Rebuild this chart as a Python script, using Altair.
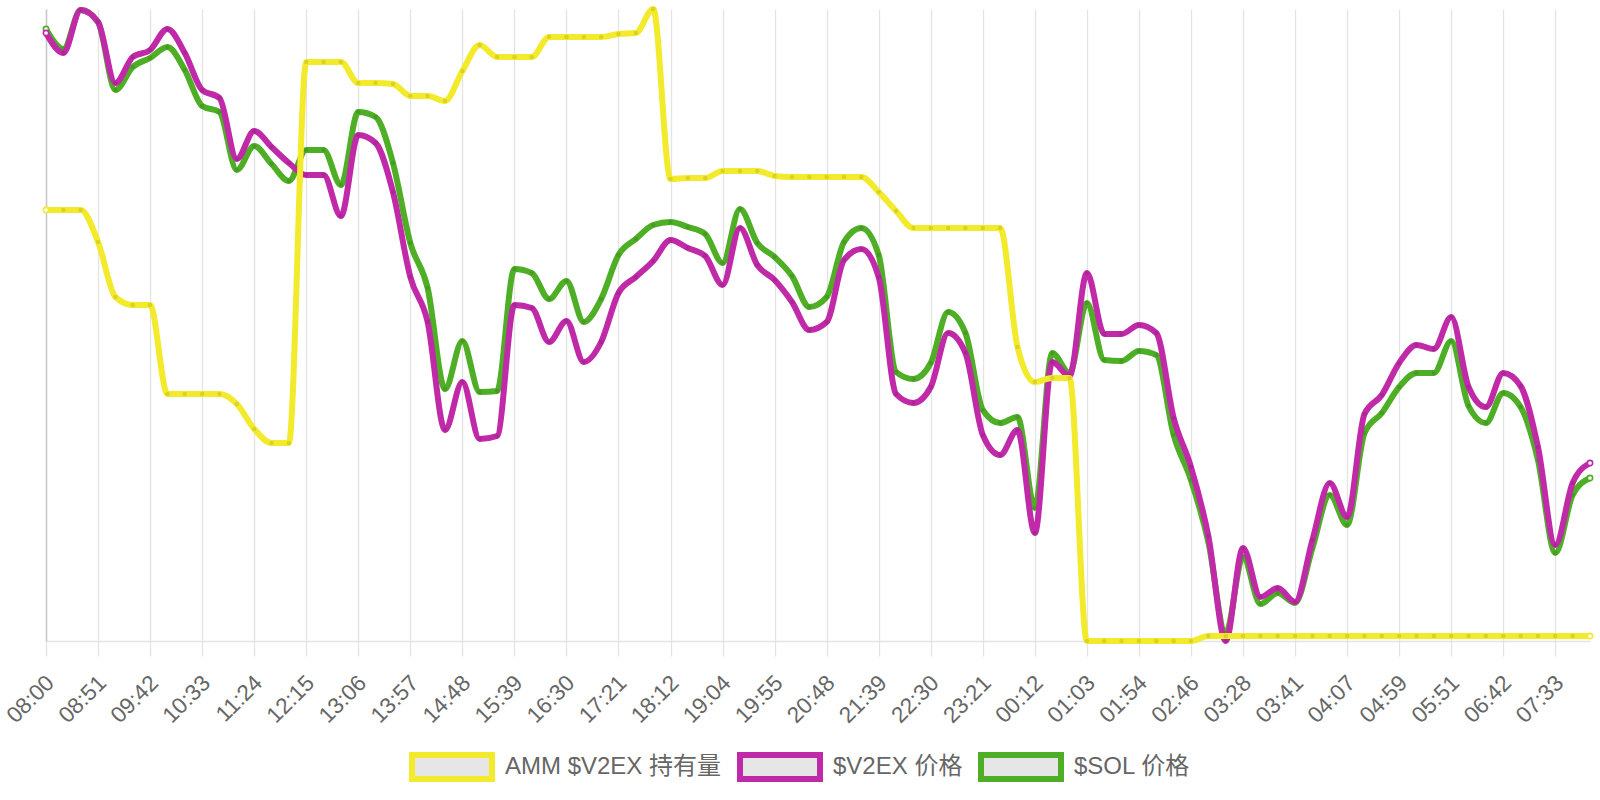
import json
import altair as alt
import pandas as pd

# ---------------- data ----------------
labels = ["08:00", "08:51", "09:42", "10:33", "11:24", "12:15", "13:06", "13:57",
          "14:48", "15:39", "16:30", "17:21", "18:12", "19:04", "19:55", "20:48",
          "21:39", "22:30", "23:21", "00:12", "01:03", "01:54", "02:46", "03:28",
          "03:41", "04:07", "04:59", "05:51", "06:42", "07:33"]

amm_holdings = [431, 431, 431, 399, 344, 336, 336, 247, 247, 247,
                247, 237, 212, 198, 198, 579, 579, 579, 558, 558,
                557, 545, 545, 540, 570, 596, 584, 584, 584, 604,
                604, 604, 604, 607, 608, 632, 462, 463, 463, 470,
                470, 470, 465, 464, 464, 464, 464, 464, 449, 430,
                413, 413, 413, 413, 413, 413, 294, 259, 263, 263,
                0, 0, 0, 0, 0, 0, 0, 5, 5, 5,
                5, 5, 5, 5, 5, 5, 5, 5, 5, 5,
                5, 5, 5, 5, 5, 5, 5, 5, 5, 5]

v2ex_price = [608, 588, 631, 619, 558, 584, 591, 612, 588, 551,
              543, 482, 510, 494, 478, 466, 466, 425, 506, 498,
              449, 364, 319, 211, 259, 202, 205, 336, 333, 299,
              320, 279, 299, 348, 364, 380, 401, 393, 385, 356,
              413, 376, 361, 339, 311, 319, 381, 392, 364, 247,
              238, 254, 308, 288, 206, 186, 211, 108, 279, 265,
              368, 307, 307, 316, 308, 223, 174, 105, 0, 93,
              44, 53, 39, 101, 158, 124, 227, 246, 278, 296,
              292, 324, 254, 234, 268, 255, 194, 96, 158, 178]

sol_price = [612, 592, 631, 619, 551, 574, 583, 594, 571, 535,
             529, 471, 495, 477, 460, 491, 491, 456, 529, 524,
             478, 398, 353, 252, 300, 249, 250, 372, 368, 342,
             360, 319, 342, 386, 402, 416, 419, 414, 407, 378,
             432, 398, 384, 365, 334, 344, 399, 413, 386, 269,
             262, 278, 329, 308, 231, 218, 224, 133, 288, 268,
             338, 281, 280, 290, 286, 206, 161, 99, 8, 84,
             37, 48, 38, 93, 146, 116, 208, 228, 254, 268,
             268, 300, 235, 218, 248, 234, 181, 88, 146, 163]

series_names = ["AMM $V2EX 持有量", "$V2EX 价格", "$SOL 价格"]
series_colors = ["#f2ea2a", "#c02aa8", "#4eae26"]

# ---------------- table ----------------
rows = []
for name, vals in zip(series_names, [amm_holdings, v2ex_price, sol_price]):
    for i, v in enumerate(vals):
        rows.append({"idx": i, "series": name, "value": v})
df = pd.DataFrame(rows)

n = len(amm_holdings)
FONT = "Liberation Sans, Arial, Noto Sans CJK SC, sans-serif"
tick_vals = list(range(0, n, 3))
label_expr = json.dumps(labels) + "[round(datum.value / 3)]"

x = alt.X("idx:Q",
          scale=alt.Scale(domain=[0, n - 1], nice=False, zero=False),
          axis=alt.Axis(values=tick_vals, labelExpr=label_expr, title=None,
                        grid=True, gridColor="#e4e4e4", gridWidth=1.3,
                        domainColor="#e4e4e4", domainWidth=1.5,
                        tickColor="#e4e4e4", tickWidth=1.3, tickSize=15,
                        labelAngle=-45, labelAlign="right", labelBaseline="middle",
                        labelPadding=23, labelOffset=4, labelFontSize=22.5,
                        labelColor="#666666",
                        labelFont=FONT, labelOverlap=False, labelBound=False))
y = alt.Y("value:Q",
          scale=alt.Scale(domain=[0, 632], nice=False, zero=False),
          axis=alt.Axis(labels=False, ticks=False, grid=False, title=None,
                        domain=True, domainColor="#c8c8c8", domainWidth=1.5))

color = alt.Color("series:N",
                  scale=alt.Scale(domain=series_names, range=series_colors),
                  legend=alt.Legend(title=None, orient="none", legendX=363, legendY=715,
                                    direction="horizontal",
                                    symbolType="M-1,-0.3H1V0.3H-1Z", symbolSize=6400,
                                    symbolStrokeWidth=6, symbolFillColor="#e6e6e6",
                                    symbolOpacity=1,
                                    labelFontSize=24, labelColor="#666666", labelFont=FONT,
                                    labelLimit=500, labelOffset=10, columnPadding=6))
stroke = alt.Stroke("series:N",
                    scale=alt.Scale(domain=series_names, range=series_colors),
                    legend=None)

layers = []
for name in reversed(series_names):
    base = alt.Chart().transform_filter(alt.datum.series == name)
    line = base.mark_line(interpolate="monotone", strokeWidth=6).encode(color=color)
    dots = base.mark_circle(color="black", opacity=0.1, size=20)
    ends = base.transform_filter((alt.datum.idx == 0) | (alt.datum.idx == n - 1)).mark_point(
        shape="circle", filled=False, fill="white", fillOpacity=1, size=28,
        strokeWidth=1.6, opacity=1).encode(stroke=stroke)
    layers += [line, dots, ends]

chart = (alt.layer(*layers, data=df)
         .encode(x=x, y=y)
         .properties(width=1544, height=632, autosize="none",
                     padding={"left": 46, "top": 9, "right": 10, "bottom": 159},
                     background="white")
         .configure_view(stroke=None))

chart.save("out.html", embed_options={"renderer": "svg", "actions": False})
